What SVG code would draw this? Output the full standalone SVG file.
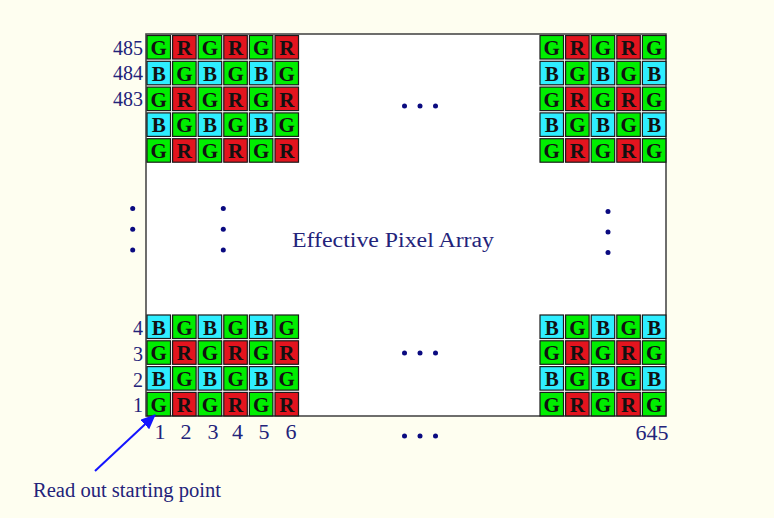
<svg xmlns="http://www.w3.org/2000/svg" xmlns:xlink="http://www.w3.org/1999/xlink" width="774" height="518" viewBox="0 0 774 518">
  <style>
    .cell { stroke: #1a1a1a; stroke-width: 1.2; }
    .g { fill: #00ee00; }
    .r { fill: #e3141e; }
    .b { fill: #2eeeff; }
    .ch { font-family: "Liberation Serif", "Times New Roman", serif; font-weight: bold; font-size: 21px; fill: #111; text-anchor: middle; }
    .lbl { font-family: "Liberation Serif", "Times New Roman", serif; font-size: 20px; fill: #23237a; }
    .num { font-family: "Liberation Serif", "Times New Roman", serif; font-size: 22px; fill: #23237a; text-anchor: middle; }
    .dot { fill: #0a0a80; }
    .frame { fill: #ffffff; stroke: #4a4a4a; stroke-width: 1.6; }
  </style>
  <defs>
    <g id="cG"><rect class="cell g" width="23.5" height="23.5"/><text class="ch" x="11.75" y="19.5">G</text></g>
    <g id="cR"><rect class="cell r" width="23.5" height="23.5"/><text class="ch" x="11.75" y="19.5">R</text></g>
    <g id="cB"><rect class="cell b" width="23.5" height="23.5"/><text class="ch" x="11.75" y="19.5">B</text></g>
    <!-- six-wide rows (left blocks) -->
    <g id="rowGR6">
      <use xlink:href="#cG" x="0"/><use xlink:href="#cR" x="25.6"/><use xlink:href="#cG" x="51.2"/>
      <use xlink:href="#cR" x="76.8"/><use xlink:href="#cG" x="102.4"/><use xlink:href="#cR" x="128"/>
    </g>
    <g id="rowBG6">
      <use xlink:href="#cB" x="0"/><use xlink:href="#cG" x="25.6"/><use xlink:href="#cB" x="51.2"/>
      <use xlink:href="#cG" x="76.8"/><use xlink:href="#cB" x="102.4"/><use xlink:href="#cG" x="128"/>
    </g>
    <!-- five-wide rows (right blocks) -->
    <g id="rowGR5">
      <use xlink:href="#cG" x="0"/><use xlink:href="#cR" x="25.6"/><use xlink:href="#cG" x="51.2"/>
      <use xlink:href="#cR" x="76.8"/><use xlink:href="#cG" x="102.4"/>
    </g>
    <g id="rowBG5">
      <use xlink:href="#cB" x="0"/><use xlink:href="#cG" x="25.6"/><use xlink:href="#cB" x="51.2"/>
      <use xlink:href="#cG" x="76.8"/><use xlink:href="#cB" x="102.4"/>
    </g>
    <marker id="arrowHead" markerWidth="15" markerHeight="13" refX="14" refY="6.5" orient="auto" markerUnits="userSpaceOnUse" viewBox="0 0 15 13">
      <path d="M0,0 L15,6.5 L0,13 z" fill="#1414ff"/>
    </marker>
  </defs>

  <!-- background -->
  <rect x="0" y="0" width="774" height="518" fill="#fefef0"/>

  <!-- sensor frame -->
  <g id="pixel-array">
    <rect class="frame" x="146" y="34" width="520" height="382"/>
    <text class="lbl" x="292" y="247" font-size="22" textLength="202" lengthAdjust="spacingAndGlyphs">Effective Pixel Array</text>
  </g>

  <!-- top-left block -->
  <g id="block-top-left">
    <use xlink:href="#rowGR6" x="147" y="35.5"/>
    <use xlink:href="#rowBG6" x="147" y="61.3"/>
    <use xlink:href="#rowGR6" x="147" y="87.1"/>
    <use xlink:href="#rowBG6" x="147" y="112.9"/>
    <use xlink:href="#rowGR6" x="147" y="138.7"/>
  </g>

  <!-- top-right block -->
  <g id="block-top-right">
    <use xlink:href="#rowGR5" x="540" y="35.5"/>
    <use xlink:href="#rowBG5" x="540" y="61.3"/>
    <use xlink:href="#rowGR5" x="540" y="87.1"/>
    <use xlink:href="#rowBG5" x="540" y="112.9"/>
    <use xlink:href="#rowGR5" x="540" y="138.7"/>
  </g>

  <!-- bottom-left block -->
  <g id="block-bottom-left">
    <use xlink:href="#rowBG6" x="147" y="315"/>
    <use xlink:href="#rowGR6" x="147" y="340.8"/>
    <use xlink:href="#rowBG6" x="147" y="366.6"/>
    <use xlink:href="#rowGR6" x="147" y="392.4"/>
  </g>

  <!-- bottom-right block -->
  <g id="block-bottom-right">
    <use xlink:href="#rowBG5" x="540" y="315"/>
    <use xlink:href="#rowGR5" x="540" y="340.8"/>
    <use xlink:href="#rowBG5" x="540" y="366.6"/>
    <use xlink:href="#rowGR5" x="540" y="392.4"/>
  </g>

  <!-- row numbers -->
  <g id="row-labels">
    <text class="lbl" x="143" y="55" text-anchor="end">485</text>
    <text class="lbl" x="143" y="80" text-anchor="end">484</text>
    <text class="lbl" x="143" y="106" text-anchor="end">483</text>
    <text class="lbl" x="143" y="335" text-anchor="end">4</text>
    <text class="lbl" x="143" y="361" text-anchor="end">3</text>
    <text class="lbl" x="143" y="387" text-anchor="end">2</text>
    <text class="lbl" x="143" y="412" text-anchor="end">1</text>
  </g>

  <!-- column numbers -->
  <g id="column-labels">
    <text class="num" x="160" y="439">1</text>
    <text class="num" x="186" y="439">2</text>
    <text class="num" x="213" y="439">3</text>
    <text class="num" x="237.5" y="439">4</text>
    <text class="num" x="264" y="439">5</text>
    <text class="num" x="291" y="439">6</text>
    <text class="num" x="652" y="440">645</text>
  </g>

  <!-- ellipsis dots -->
  <g id="ellipses">
    <circle class="dot" cx="404.5" cy="106" r="2.5"/><circle class="dot" cx="420" cy="106" r="2.5"/><circle class="dot" cx="435.5" cy="106" r="2.5"/>
    <circle class="dot" cx="404.5" cy="353" r="2.5"/><circle class="dot" cx="420" cy="353" r="2.5"/><circle class="dot" cx="435.5" cy="353" r="2.5"/>
    <circle class="dot" cx="404.5" cy="436" r="2.5"/><circle class="dot" cx="420" cy="436" r="2.5"/><circle class="dot" cx="435.5" cy="436" r="2.5"/>
    <circle class="dot" cx="132.7" cy="208.5" r="2.5"/><circle class="dot" cx="132.7" cy="229.3" r="2.5"/><circle class="dot" cx="132.7" cy="250" r="2.5"/>
    <circle class="dot" cx="223.3" cy="208.5" r="2.5"/><circle class="dot" cx="223.3" cy="229.3" r="2.5"/><circle class="dot" cx="223.3" cy="250" r="2.5"/>
    <circle class="dot" cx="608" cy="211.5" r="2.5"/><circle class="dot" cx="608" cy="232" r="2.5"/><circle class="dot" cx="608" cy="252.5" r="2.5"/>
  </g>

  <!-- read-out start pointer -->
  <g id="connectors">
    <line x1="95" y1="471" x2="155" y2="415" stroke="#1414ff" stroke-width="2" marker-end="url(#arrowHead)"/>
  </g>
  <g id="start-note">
    <text class="lbl" x="33" y="497" font-size="21" textLength="188" lengthAdjust="spacingAndGlyphs">Read out starting point</text>
  </g>
</svg>
